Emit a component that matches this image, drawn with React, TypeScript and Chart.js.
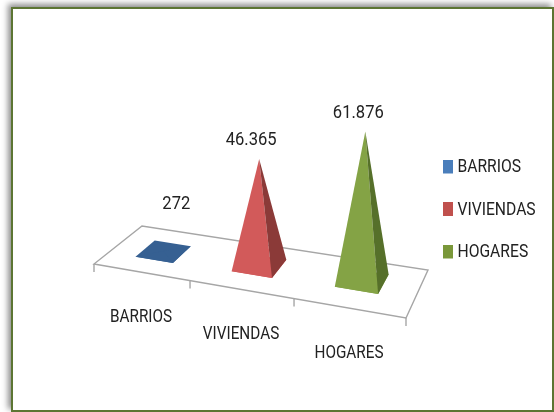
import React, { useEffect, useRef } from "react";
import { Chart, registerables } from "chart.js";

Chart.register(...registerables);

const categories = ["BARRIOS", "VIVIENDAS", "HOGARES"];
const seriesValues = [272, 46365, 61876];
const valueLabels = ["272", "46.365", "61.876"];
const legendColors = ["#4a7ebb", "#c0504d", "#7a983a"];
const faceColors = ["#366092", "#d25a5a", "#84a345"];
const sideColors = ["#366092", "#8b3a38", "#56702a"];
const labelNudges = [[13, -47], [-8, -19], [-7, -18]];

const FONT = 'Roboto, "Liberation Sans", sans-serif';
const TEXT = "#222222";
const NAME_SQUEEZE = 0.85;
const LEGEND_SQUEEZE = 0.87;
const NUMBER_SQUEEZE = 0.92;
const FLOOR_FL = [94, 264];
const FLOOR_FR = [406, 318];
const FLOOR_BR = [428, 270];
const FLOOR_BL = [142, 226];

function warp(u: number) {
  return u * (0.885 + 0.115 * u);
}
function floor(u: number, v: number) {
  const w = warp(u);
  const fx = FLOOR_FL[0] + w * (FLOOR_FR[0] - FLOOR_FL[0]);
  const fy = FLOOR_FL[1] + w * (FLOOR_FR[1] - FLOOR_FL[1]);
  const bx = FLOOR_BL[0] + w * (FLOOR_BR[0] - FLOOR_BL[0]);
  const by = FLOOR_BL[1] + w * (FLOOR_BR[1] - FLOOR_BL[1]);
  return [fx + v * (bx - fx), fy + v * (by - fy)];
}
function poly(ctx: CanvasRenderingContext2D, pts: number[][], fill: string) {
  ctx.beginPath();
  pts.forEach((p, i) => (i ? ctx.lineTo(p[0], p[1]) : ctx.moveTo(p[0], p[1])));
  ctx.closePath();
  ctx.fillStyle = fill;
  ctx.fill();
}
function squeezedText(ctx: CanvasRenderingContext2D, text: string, x: number, y: number, sx: number) {
  ctx.save();
  ctx.translate(x, y);
  ctx.scale(sx, 1);
  ctx.fillText(text, 0, 0);
  ctx.restore();
}
function swatch(color: string) {
  const c = document.createElement("canvas");
  c.width = 12;
  c.height = 16;
  const g = c.getContext("2d")!;
  g.fillStyle = color;
  g.fillRect(0, 0, 12, 14);
  return c;
}

const pyramidPlugin = {
  id: "pyramid3d",
  afterLayout(chart: any) {
    const lg = chart.legend;
    lg.left = 420.2;
    lg.right = 554;
    lg.top = 134;
    lg.bottom = 290;
    if (!lg.__squeezed) {
      lg.__squeezed = true;
      const draw = lg.draw;
      lg.draw = function (...args: any[]) {
        const { ctx } = chart;
        const pivot = 457.5;
        ctx.save();
        ctx.translate(pivot, 0);
        ctx.scale(LEGEND_SQUEEZE, 1);
        ctx.translate(-pivot, 0);
        draw.apply(this, args);
        ctx.restore();
      };
    }
  },
  beforeDatasetsDraw(chart: any) {
    const { ctx, chartArea: area } = chart;
    const x = chart.scales.x;
    const toU = (px: number) => (px - area.left) / (area.right - area.left);
    ctx.save();
    // floor and tick marks
    ctx.strokeStyle = "#a6a6a6";
    ctx.lineWidth = 1.4;
    ctx.beginPath();
    const corners = [floor(0, 0), floor(1, 0), floor(1, 1), floor(0, 1)];
    corners.forEach((p, i) => (i ? ctx.lineTo(p[0], p[1]) : ctx.moveTo(p[0], p[1])));
    ctx.closePath();
    ctx.stroke();
    for (let i = 0; i <= categories.length; i++) {
      const p = floor(i / categories.length, 0);
      ctx.beginPath();
      ctx.moveTo(p[0], p[1]);
      ctx.lineTo(p[0], p[1] + 8);
      ctx.stroke();
    }
    // pyramids, read from the bar elements laid out by the scales
    const meta = chart.getDatasetMeta(0);
    meta.data.forEach((bar: any, i: number) => {
      const tickU = toU(bar.x);
      const u = tickU * 0.99;
      const half = bar.width / 2 / (area.right - area.left);
      const vHalf = 0.21;
      const vMid = 0.5 + 0.1 * tickU;
      const left = floor(u - half, vMid - vHalf);
      const front = floor(u + half, vMid - vHalf);
      const right = floor(u + half, vMid + vHalf);
      const back = floor(u - half, vMid + vHalf);
      const center = floor(u, vMid);
      const w = warp(u);
      const h = (bar.base - bar.y) * (1 + 0.15 * w);
      const apex = [center[0] + 10 * (w - 0.47) * (h / 150), center[1] - h];
      poly(ctx, [left, front, right, back], faceColors[i]);
      poly(ctx, [left, front, apex], faceColors[i]);
      poly(ctx, [front, right, apex], sideColors[i]);
      // value label
      ctx.fillStyle = TEXT;
      ctx.font = `18px ${FONT}`;
      ctx.textAlign = "center";
      ctx.textBaseline = "middle";
      squeezedText(ctx, valueLabels[i], apex[0] + labelNudges[i][0], apex[1] + labelNudges[i][1], NUMBER_SQUEEZE);
      // category label
      const tick = floor(tickU, 0);
      squeezedText(ctx, x.getLabelForValue(i), tick[0], tick[1] + 45, NAME_SQUEEZE);
    });
    ctx.restore();
    return false;
  },
};

export default function App() {
  const ref = useRef<HTMLCanvasElement>(null);
  useEffect(() => {
    const chart = new Chart(ref.current!, {
      type: "bar",
      data: {
        labels: categories,
        datasets: [
          {
            label: "Total",
            data: seriesValues,
            backgroundColor: legendColors,
            barPercentage: 0.4,
            categoryPercentage: 1,
          },
        ],
      },
      options: {
        animation: false,
        responsive: false,
        layout: { padding: { left: 94, top: 100, bottom: 161.5, right: 0 } },
        scales: {
          x: { display: false },
          y: { display: false, min: 0, max: 70000 },
        },
        plugins: {
          tooltip: { enabled: false },
          legend: {
            display: true,
            position: "right",
            align: "start",
            labels: {
              color: TEXT,
              font: { family: FONT, size: 18 },
              usePointStyle: true,
              boxWidth: 3.8,
              padding: 24.5,
              generateLabels: (c: any) =>
                c.data.labels.map((t: string, i: number) => ({
                  text: t,
                  fontColor: TEXT,
                  pointStyle: swatch(legendColors[i]),
                  fillStyle: legendColors[i],
                  strokeStyle: legendColors[i],
                  lineWidth: 0,
                  hidden: false,
                  index: i,
                })),
            },
          },
        },
      },
      plugins: [pyramidPlugin],
    } as any);
    return () => chart.destroy();
  }, []);
  return (
    <div style={{ position: "absolute", left: 0, top: 0, width: 554, height: 412, overflow: "hidden", background: "#fff" }}>
      <div
        style={{
          position: "absolute",
          left: 11,
          top: 7,
          width: 543,
          height: 405,
          boxSizing: "border-box",
          border: "2.5px solid #5c7533",
          boxShadow: "-3px -3px 6px rgba(0,0,0,0.45)",
        }}
      />
      <canvas
        ref={ref}
        width={554}
        height={412}
        style={{ position: "absolute", left: 0, top: 0, display: "block", filter: "blur(0.4px)" }}
      />
    </div>
  );
}
